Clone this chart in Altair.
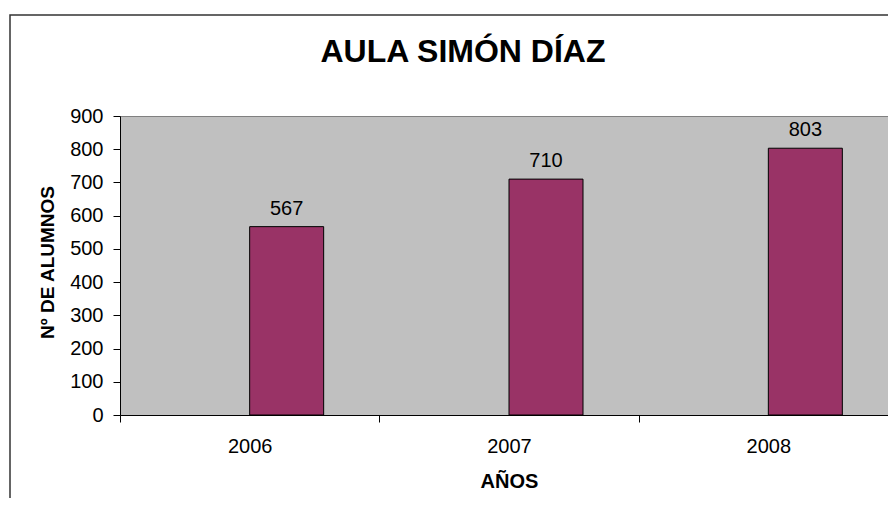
import altair as alt
import pandas as pd

years = ["2006", "2007", "2008"]
alumnos = [567, 710, 803]
y_ticks = [0, 100, 200, 300, 400, 500, 600, 700, 800, 900]

df = pd.DataFrame({"year": years, "alumnos": alumnos})
FONT = "Liberation Sans"

base = alt.Chart(df)

x_enc = alt.X(
    "year:N",
    sort=years,
    scale=alt.Scale(paddingInner=0, paddingOuter=0, range=[0, 778]),
    axis=alt.Axis(
        title="AÑOS",
        labelAngle=0,
        tickBand="extent",
        tickSize=7,
        labelPadding=14,
        labelFontSize=20,
        labelFont=FONT,
        labelColor="black",
        titleFont=FONT,
        titleFontSize=20,
        titleFontWeight="bold",
        titleColor="black",
        titleY=72,
        titleBaseline="alphabetic",
        domainColor="black",
        tickColor="black",
        grid=False,
    ),
)
y_enc = alt.Y(
    "alumnos:Q",
    scale=alt.Scale(domain=[0, 900], nice=False),
    axis=alt.Axis(
        title="Nº DE ALUMNOS",
        values=y_ticks,
        tickSize=7,
        labelPadding=10,
        labelFontSize=20,
        labelFont=FONT,
        labelColor="black",
        titleFont=FONT,
        titleFontSize=19,
        titleFontWeight="bold",
        titleColor="black",
        titleX=-67,
        titleY=146,
        titleAngle=-90,
        titleAlign="center",
        titleBaseline="alphabetic",
        domainColor="black",
        tickColor="black",
        grid=False,
    ),
)

bars = base.mark_bar(
    width=74, xOffset=37, color="#993366", stroke="black", strokeWidth=1
).encode(x=x_enc, y=y_enc)

labels = base.mark_text(
    xOffset=37, dy=-12, baseline="alphabetic", font=FONT, fontSize=20, color="black"
).encode(x=x_enc, y=y_enc, text="alumnos:Q")

border = alt.Chart(pd.DataFrame({"a": [0]})).mark_rect(
    fill=None, stroke="#333333", strokeWidth=1.5, clip=False
).encode(
    x=alt.value(-110), x2=alt.value(800), y=alt.value(-101), y2=alt.value(420)
)

chart = alt.layer(bars, labels, border).properties(
    width=768,
    height=299,
    title=alt.TitleParams(
        "AULA SIMÓN DÍAZ",
        font=FONT,
        fontSize=32,
        fontWeight="bold",
        color="black",
        anchor="middle",
        baseline="alphabetic",
        dx=-41,
        offset=-80,
    ),
    autosize=alt.AutoSizeParams(type="none"),
    padding={"left": 112, "top": 108, "right": 0, "bottom": 83},
).configure_view(
    fill="#C0C0C0", stroke="#808080", strokeWidth=1
)

chart.save("out.html", embed_options={"renderer": "svg", "actions": False})
